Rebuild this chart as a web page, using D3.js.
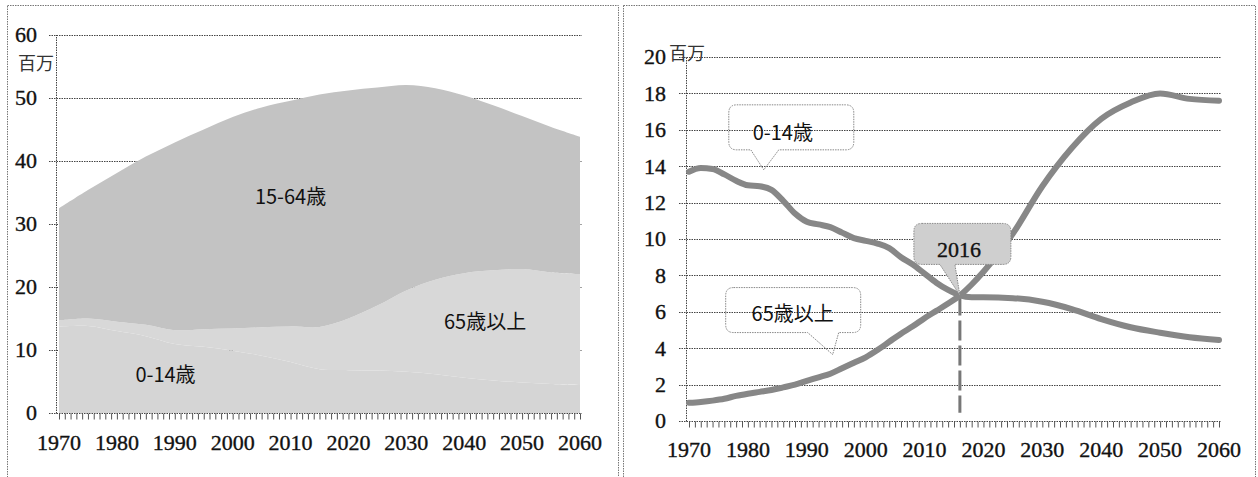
<!DOCTYPE html>
<html>
<head>
<meta charset="utf-8">
<script src="https://cdn.jsdelivr.net/npm/d3@7"></script>
<style>
  body { margin: 0; background: #fff; }
  svg { display: block; }
  text { fill: #111; }
  .num { font-family: "Liberation Serif", "DejaVu Serif", serif; font-size: 22px; stroke: #111; stroke-width: 0.35px; }
  .jp { font-family: "Noto Sans CJK JP", sans-serif; font-size: 20px; }
</style>
</head>
<body>
<svg id="chart" width="1258" height="477"></svg>
<script>
// left chart: stacked population by age group (millions), every 5 years
var areaYears = [1970, 1975, 1980, 1985, 1990, 1995, 2000, 2005, 2010, 2015,
                 2020, 2025, 2030, 2035, 2040, 2045, 2050, 2055, 2060];
var areaChild = [13.7, 13.8, 13.0, 12.2, 10.95, 10.5, 9.9, 9.1, 8.1, 6.95,
                 6.8, 6.75, 6.55, 6.15, 5.6, 5.15, 4.85, 4.6, 4.45];
var areaOld = [1.0, 1.2, 1.5, 1.8, 2.2, 2.8, 3.5, 4.5, 5.65, 6.7,
               8.2, 10.3, 12.9, 15.0, 16.6, 17.5, 18.0, 17.7, 17.6];
var areaWorking = [17.8, 20.4, 23.6, 26.7, 29.8, 31.7, 33.6, 34.9, 35.8, 36.9,
                   36.2, 34.6, 32.6, 30.4, 28.2, 26.2, 24.3, 23.1, 21.8];
var areaKeys = ["child", "old", "working"];
var areaNames = ["0-14歳", "65歳以上", "15-64歳"];
var areaTicks = [0, 10, 20, 30, 40, 50, 60];

// right chart: 0-14 and 65+ lines (millions)
var lineYears = [1970, 1972, 1974, 1976, 1978, 1980, 1982, 1984, 1986, 1988,
                 1990, 1992, 1994, 1996, 1998, 2000, 2002, 2004, 2006, 2008,
                 2010, 2012, 2014, 2016, 2018, 2020, 2025, 2030, 2035, 2040,
                 2045, 2050, 2055, 2060];
var lineChild = [13.7, 13.9, 13.85, 13.55, 13.2, 12.95, 12.9, 12.7, 12.1, 11.4,
                 10.95, 10.8, 10.65, 10.35, 10.05, 9.9, 9.75, 9.5, 9.0, 8.6,
                 8.1, 7.6, 7.2, 6.9, 6.8, 6.8, 6.75, 6.55, 6.15, 5.6,
                 5.15, 4.85, 4.6, 4.45];
var lineOld = [1.0, 1.05, 1.12, 1.22, 1.38, 1.5, 1.6, 1.7, 1.85, 2.0,
               2.2, 2.4, 2.6, 2.9, 3.2, 3.5, 3.9, 4.35, 4.8, 5.2,
               5.65, 6.05, 6.45, 6.9, 7.5, 8.2, 10.3, 12.9, 15.0, 16.6,
               17.5, 18.0, 17.7, 17.6];
var lineTicks = [0, 2, 4, 6, 8, 10, 12, 14, 16, 18, 20];
var yearLabels = [1970, 1980, 1990, 2000, 2010, 2020, 2030, 2040, 2050, 2060];
var crossYear = 2016;
var crossValue = 6.9;

var svg = d3.select("#chart");
svg.append("rect").attr("width", 1258).attr("height", 477).attr("fill", "#fff");

// panel frames
var frames = svg.append("g")
  .attr("fill", "none")
  .attr("stroke", "#777")
  .attr("stroke-dasharray", "1.5 1");
frames.append("rect").attr("x", 7.5).attr("y", 5.5).attr("width", 611).attr("height", 500);
frames.append("rect").attr("x", 623.5).attr("y", 5.5).attr("width", 632).attr("height", 500);

function drawGrid(g, x, y, ticks, axisX) {
  var x1 = x.range()[1] + 2;
  g.append("g").selectAll("line")
    .data(ticks.filter(function(d) { return d > 0; }))
    .enter().append("line")
    .attr("x1", axisX - 7).attr("x2", x1)
    .attr("y1", function(d) { return Math.round(y(d)) + 0.5; })
    .attr("y2", function(d) { return Math.round(y(d)) + 0.5; })
    .attr("stroke", "#444")
    .attr("stroke-dasharray", "1.5 1");
}

function drawAxes(g, x, y, ticks, axisX, yLabelX, xLabelBase) {
  var y0 = Math.round(y(0)) + 0.5;
  var x1 = x.range()[1] + 2;
  // y axis line
  g.append("line")
    .attr("x1", axisX + 0.5).attr("x2", axisX + 0.5)
    .attr("y1", y0).attr("y2", y(ticks[ticks.length - 1]))
    .attr("stroke", "#444").attr("stroke-dasharray", "1.5 1");
  // x axis line
  g.append("line")
    .attr("x1", axisX - 7).attr("x2", x1)
    .attr("y1", y0).attr("y2", y0)
    .attr("stroke", "#444").attr("stroke-dasharray", "1.5 1");
  // yearly ticks
  var axis = d3.axisBottom(x)
    .tickValues(d3.range(1970, 2061))
    .tickSize(6)
    .tickFormat("");
  var ag = g.append("g").attr("transform", "translate(0," + y0 + ")").call(axis);
  ag.select(".domain").remove();
  ag.selectAll("line").attr("stroke", "#555").attr("stroke-width", 1);
  // year labels
  g.append("g").selectAll("text")
    .data(yearLabels)
    .enter().append("text")
    .attr("class", "num")
    .attr("x", function(d) { return x(d); })
    .attr("y", xLabelBase)
    .attr("text-anchor", "middle")
    .text(function(d) { return d; });
  // value labels
  g.append("g").selectAll("text")
    .data(ticks)
    .enter().append("text")
    .attr("class", "num")
    .attr("x", yLabelX)
    .attr("y", function(d) { return y(d); })
    .attr("dy", "0.34em")
    .attr("text-anchor", "end")
    .text(function(d) { return d; });
}

// ---------- left chart ----------
var xL = d3.scaleLinear().domain([1970, 2060]).range([59, 580]);
var yL = d3.scaleLinear().domain([0, 60]).range([413, 35]);
var left = svg.append("g");

drawGrid(left, xL, yL, areaTicks, 56);

var table = areaYears.map(function(yr, i) {
  return { year: yr, child: areaChild[i], old: areaOld[i], working: areaWorking[i] };
});
var stacked = d3.stack().keys(areaKeys)(table);
var areaColor = d3.scaleOrdinal().domain(areaKeys).range(["#d5d5d5", "#d8d8d8", "#c3c3c3"]);
var area = d3.area()
  .x(function(d) { return xL(d.data.year); })
  .y0(function(d) { return yL(d[0]); })
  .y1(function(d) { return yL(d[1]); })
  .curve(d3.curveCatmullRom.alpha(0.5));

left.append("g").selectAll("path")
  .data(stacked)
  .enter().append("path")
  .attr("d", area)
  .attr("fill", function(d) { return areaColor(d.key); });

drawAxes(left, xL, yL, areaTicks, 56, 37, 450);

left.append("text").attr("class", "jp")
  .attr("x", 18).attr("y", 70).style("font-size", "18px").style("fill", "#333")
  .text("百万");

// series labels inside the areas
var areaLabelPos = [[1988.4, 5.0], [2043.6, 13.3], [2010, 33.2]];
left.append("g").selectAll("text")
  .data(areaNames)
  .enter().append("text")
  .attr("class", "jp")
  .attr("x", function(d, i) { return xL(areaLabelPos[i][0]); })
  .attr("y", function(d, i) { return yL(areaLabelPos[i][1]); })
  .attr("text-anchor", "middle")
  .text(function(d) { return d; });

// ---------- right chart ----------
var xR = d3.scaleLinear().domain([1970, 2060]).range([689, 1219]);
var yR = d3.scaleLinear().domain([0, 20]).range([421, 57]);
var right = svg.append("g");

drawGrid(right, xR, yR, lineTicks, 686);
drawAxes(right, xR, yR, lineTicks, 686, 666, 457);

right.append("text").attr("class", "jp")
  .attr("x", 669).attr("y", 60).style("font-size", "18px").style("fill", "#333")
  .text("百万");

// dashed marker at the crossing year
right.append("line")
  .attr("x1", xR(crossYear)).attr("x2", xR(crossYear))
  .attr("y1", yR(crossValue)).attr("y2", yR(0.45))
  .attr("stroke", "#777")
  .attr("stroke-width", 3)
  .attr("stroke-dasharray", "20 5");

var line = d3.line()
  .x(function(d) { return xR(d[0]); })
  .y(function(d) { return yR(d[1]); })
  .curve(d3.curveMonotoneX);

[lineChild, lineOld].forEach(function(vals) {
  right.append("path")
    .datum(lineYears.map(function(yr, i) { return [yr, vals[i]]; }))
    .attr("d", line)
    .attr("fill", "none")
    .attr("stroke", "#878787")
    .attr("stroke-width", 6)
    .attr("stroke-linecap", "round")
    .attr("stroke-linejoin", "round");
});

// callouts
function calloutPath(x0, y0, x1, y1, r, b0, b1, tx, ty) {
  return "M" + (x0 + r) + "," + y0 + "H" + (x1 - r) +
    "Q" + x1 + "," + y0 + " " + x1 + "," + (y0 + r) +
    "V" + (y1 - r) + "Q" + x1 + "," + y1 + " " + (x1 - r) + "," + y1 +
    "H" + b1 + "L" + tx + "," + ty + "L" + b0 + "," + y1 +
    "H" + (x0 + r) + "Q" + x0 + "," + y1 + " " + x0 + "," + (y1 - r) +
    "V" + (y0 + r) + "Q" + x0 + "," + y0 + " " + (x0 + r) + "," + y0 + "Z";
}

var calloutText = ["0-14歳", "2016", "65歳以上"];
var calloutAt = [[1982.7, 13.8], [crossYear, crossValue], [1994.4, 3.65]];
// box offsets from the pointer tip: left, top, right, bottom, base0, base1, text dx, text baseline dy
var calloutBox = [
  [-35, -65, 90, -20, -13, 15, 19, -30],
  [-46, -72, 51, -31, -20, -5, -1, -38],
  [-107, -67, 28, -22, -25, 6, -40, -34]
];
var calloutFill = ["none", "#cfcfcf", "none"];

calloutText.forEach(function(t, i) {
  var tx = xR(calloutAt[i][0]), ty = yR(calloutAt[i][1]);
  var b = calloutBox[i];
  right.append("path")
    .attr("d", calloutPath(tx + b[0], ty + b[1], tx + b[2], ty + b[3], 8, tx + b[4], tx + b[5], tx, ty))
    .attr("fill", calloutFill[i])
    .attr("stroke", "#888")
    .attr("stroke-dasharray", "1.5 1");
  right.append("text")
    .attr("class", i === 1 ? "num" : "jp")
    .attr("x", tx + b[6])
    .attr("y", ty + b[7])
    .attr("text-anchor", "middle")
    .text(t);
});
</script>
</body>
</html>
